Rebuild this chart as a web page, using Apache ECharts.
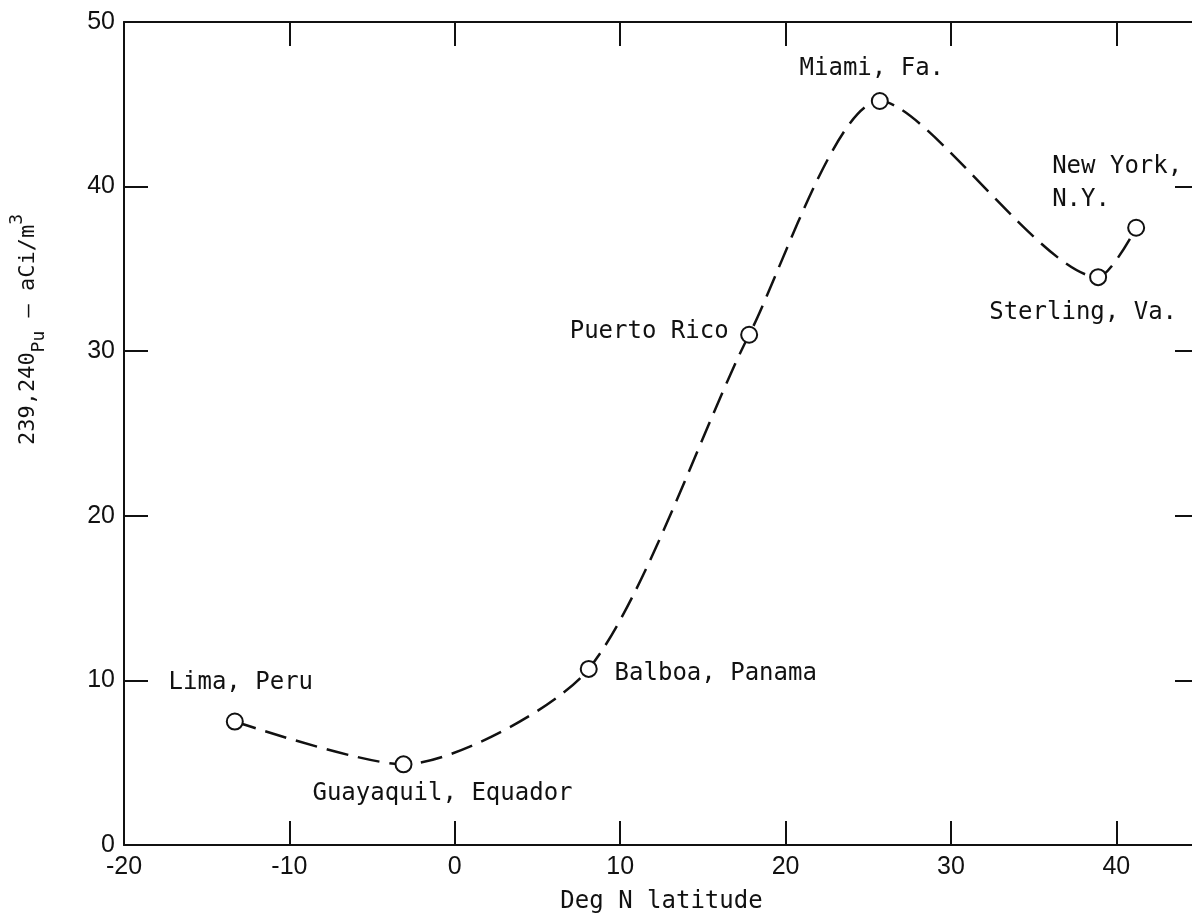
<!DOCTYPE html>
<html>
<head>
  <meta charset="utf-8">
  <style>
    html, body { margin: 0; padding: 0; width: 100%; height: 100%; overflow: hidden; background: #fff; }
  </style>
  <script src="https://cdn.jsdelivr.net/npm/echarts@6/dist/echarts.min.js"></script>
</head>
<body>
  <div id="container" style="width: 1192px; height: 922px;"></div>
  <script>
    // stations, latitude (deg N) and 239,240Pu (aCi/m3)
    var stations = ['Lima, Peru', 'Guayaquil, Equador', 'Balboa, Panama', 'Puerto Rico', 'Miami, Fa.', 'Sterling, Va.', 'New York,\nN.Y.'];
    var latitude = [-13.3, -3.1, 8.1, 17.8, 25.7, 38.9, 41.2];
    var pu = [7.5, 4.9, 10.7, 31.0, 45.2, 34.5, 37.5];

    var xTicks = { min: -20, max: 45, interval: 10 };
    var yTicks = { min: 0, max: 50, interval: 10 };

    // label placement (offset from the point centre)
    var labelPlace = {
      'Lima, Peru': { offset: [6, -39] },
      'Guayaquil, Equador': { offset: [39, 29] },
      'Balboa, Panama': { offset: [127, 5] },
      'Puerto Rico': { offset: [-100, -3] },
      'Miami, Fa.': { offset: [-8, -32] },
      'Sterling, Va.': { offset: [-15, 36] },
      'New York,\nN.Y.': { offset: [-84, -44], align: 'left' }
    };

    var mono = 'DejaVu Sans Mono';
    var sans = 'Liberation Sans';

    var data = [];
    for (var i = 0; i < stations.length; i++) {
      var p = labelPlace[stations[i]];
      data.push({
        value: [latitude[i], pu[i]],
        name: stations[i],
        label: {
          show: true,
          position: 'inside',
          offset: p.offset,
          align: p.align || 'center',
          verticalAlign: 'middle',
          formatter: stations[i],
          color: '#111',
          fontFamily: mono,
          fontSize: 24,
          lineHeight: 33
        }
      });
    }

    var axisLine = { show: true, onZero: false, lineStyle: { color: '#111', width: 2 } };
    var axisTick = { show: true, inside: true, length: 24, lineStyle: { color: '#111', width: 2 } };

    var chart = echarts.init(document.getElementById('container'), null, { renderer: 'canvas' });

    var option = {
      animation: false,
      backgroundColor: '#fff',
      grid: { left: 124, right: -7, top: 22, bottom: 77, containLabel: false, outerBoundsMode: 'none' },
      xAxis: [{
        type: 'value',
        position: 'bottom',
        min: xTicks.min, max: xTicks.max, interval: xTicks.interval,
        axisLine: axisLine,
        axisTick: axisTick,
        splitLine: { show: false },
        axisLabel: { color: '#111', fontFamily: sans, fontSize: 25, margin: 10, showMaxLabel: false },
        name: 'Deg N latitude',
        nameLocation: 'middle',
        nameGap: 45,
        nameTextStyle: { color: '#111', fontFamily: mono, fontSize: 24 }
      }, {
        type: 'value',
        position: 'top',
        min: xTicks.min, max: xTicks.max, interval: xTicks.interval,
        axisLine: axisLine,
        axisTick: axisTick,
        splitLine: { show: false },
        axisLabel: { show: false }
      }],
      yAxis: [{
        type: 'value',
        position: 'left',
        min: yTicks.min, max: yTicks.max, interval: yTicks.interval,
        axisLine: axisLine,
        axisTick: axisTick,
        splitLine: { show: false },
        axisLabel: { color: '#111', fontFamily: sans, fontSize: 25, margin: 9 },
        name: '239,240{sub|Pu} — aCi/m{sup|3}',
        nameLocation: 'middle',
        nameRotate: 90,
        nameGap: 76,
        nameTextStyle: {
          color: '#111',
          fontFamily: mono,
          fontSize: 22,
          lineHeight: 40,
          padding: [0, 0, 0, 208],
          rich: {
            sub: { fontFamily: mono, fontSize: 18, lineHeight: 18, verticalAlign: 'bottom', color: '#111' },
            sup: { fontFamily: mono, fontSize: 18, lineHeight: 18, verticalAlign: 'top', color: '#111' }
          }
        }
      }, {
        type: 'value',
        position: 'right',
        min: yTicks.min, max: yTicks.max, interval: yTicks.interval,
        axisLine: axisLine,
        axisTick: axisTick,
        splitLine: { show: false },
        axisLabel: { show: false }
      }],
      series: [{
        type: 'line',
        data: data,
        smooth: 0.25,
        symbol: 'emptyCircle',
        symbolSize: 16,
        showAllSymbol: true,
        itemStyle: { color: '#111', borderColor: '#111', borderWidth: 2 },
        lineStyle: { color: '#111', width: 2.5, type: [22, 10] },
        emphasis: { disabled: true },
        z: 3
      }]
    };

    chart.setOption(option);
    window.addEventListener('resize', chart.resize);
  </script>
</body>
</html>
